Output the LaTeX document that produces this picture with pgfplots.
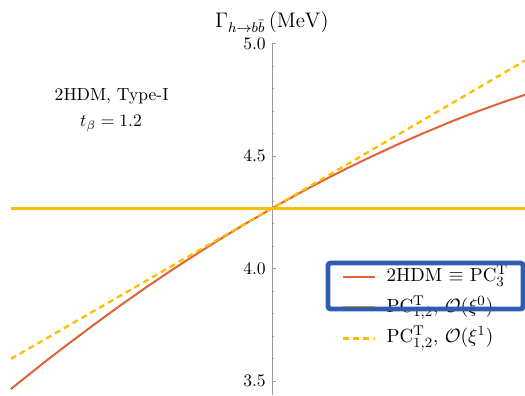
\documentclass[border=0pt]{standalone}
\usepackage{pgfplots}
\pgfplotsset{compat=1.18}
\definecolor{c1}{RGB}{224,100,58}
\definecolor{c2}{RGB}{253,190,0}
\definecolor{hb}{RGB}{47,93,178}
\begin{document}
\begin{tikzpicture}
\begin{axis}[
  scale only axis, width=10.5cm, height=7.03cm,
  xmin=-1.075, xmax=1, ymin=3.4375, ymax=5.0,
  axis x line=none, axis y line*=center,
  y axis line style={black!40, line width=0.5pt},
  ytick={3.5,4.0,4.5,5.0},
  minor y tick num=4,
  yticklabel style={/pgf/number format/.cd, fixed, fixed zerofill, precision=1},
  tick align=inside,
  major tick length=0.08cm, minor tick length=0.045cm,
  every tick/.style={black!40, line width=0.4pt},
  legend image code/.code={\draw[#1] (0cm,0cm) -- (0.64cm,0cm);},
  legend cell align=left,
  legend style={at={(rel axis cs:0.65,0.375)}, anchor=north west, draw=none, fill=none,
    font=\fontsize{10.8}{12}\selectfont, inner xsep=0pt, inner ysep=0pt, row sep=2.6pt,
    nodes={text height=8pt, text depth=3pt, inner sep=2pt},
    /tikz/every odd column/.append style={column sep=1.3mm}},
]
\addplot[c1, line width=1.15pt] coordinates {
(-1.032,3.464) (-0.9,3.583) (-0.8,3.669) (-0.7,3.753) (-0.6,3.835) (-0.5,3.914)
(-0.4,3.990) (-0.3,4.063) (-0.2,4.134) (-0.1,4.202) (0,4.267) (0.1,4.330)
(0.2,4.390) (0.3,4.447) (0.4,4.501) (0.5,4.553) (0.6,4.602) (0.7,4.649)
(0.8,4.693) (0.9,4.734) (1.0,4.772)};
\addlegendentry{2HDM $\equiv$ PC$_3^{\mathrm{T}}$}
\addplot[c2, line width=1.7pt] coordinates {(-1.032,4.268) (1.0,4.268)};
\addlegendentry{PC$^{\mathrm{T}}_{1,2}$, $\mathcal{O}(\xi^0)$}
\addplot[c2, line width=1.3pt, dash pattern=on 3.4pt off 2.4pt] coordinates {(-1.032,3.598) (0,4.268) (1.0,4.924)};
\addlegendentry{PC$^{\mathrm{T}}_{1,2}$, $\mathcal{O}(\xi^1)$}
\node[anchor=base] at (rel axis cs:0.2128,0.839) {2HDM, Type-I};
\node[anchor=base] at (rel axis cs:0.2115,0.763) {$t_\beta = 1.2$};
\coordinate (t) at (axis cs:0,5.0);
\coordinate (b1) at (rel axis cs:0.6248,0.2447);
\coordinate (b2) at (rel axis cs:0.9962,0.3755);
\coordinate (ll) at (rel axis cs:0,0);
\coordinate (ur) at (rel axis cs:1,1);
\end{axis}
\node[anchor=base, yshift=3.2mm, font=\fontsize{11.5}{13}\selectfont] at (t) {$\Gamma_{h\to b\bar b}\,(\mathrm{MeV})$};
\draw[hb, line width=2.8pt, rounded corners=1.5pt] (b1) rectangle (b2);
\pgfresetboundingbox
\path (ll) rectangle ([yshift=0.87cm]ur);
\end{tikzpicture}
\end{document}
